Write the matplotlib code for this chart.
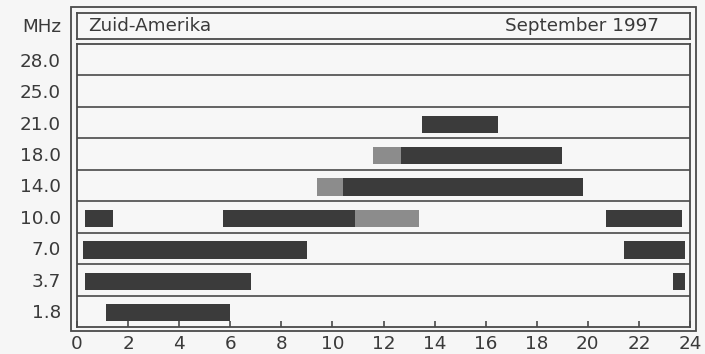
import matplotlib
matplotlib.use("Agg")
import matplotlib.pyplot as plt
from matplotlib.patches import Rectangle

plt.rcParams['font.family'] = ['DejaVu Sans']

# Data
bands = ["28.0", "25.0", "21.0", "18.0", "14.0", "10.0", "7.0", "3.7", "1.8"]
hour_ticks = [0, 2, 4, 6, 8, 10, 12, 14, 16, 18, 20, 22, 24]

# Solid (good) openings: band label, start hour, end hour
open_band = ["21.0", "18.0", "14.0", "10.0", "10.0", "10.0", "7.0", "7.0", "3.7", "3.7", "1.8"]
open_start = [13.5, 12.7, 10.4, 0.3, 5.7, 20.7, 0.25, 21.4, 0.3, 23.35, 1.15]
open_end = [16.5, 19.0, 19.8, 1.4, 10.9, 23.7, 9.0, 23.8, 6.8, 23.8, 6.0]

# Marginal openings (lighter)
marg_band = ["18.0", "14.0", "10.0"]
marg_start = [11.6, 9.4, 10.9]
marg_end = [12.7, 10.4, 13.4]

title_left = "Zuid-Amerika"
title_right = "September 1997"
unit_label = "MHz"

W, H = 705, 354
fig = plt.figure(figsize=(W / 100, H / 100), dpi=100)
fig.patch.set_facecolor('#f6f6f6')

def fx(px):
    return px / W

def fy(py):
    return 1 - py / H

line_col = '#4a4a4a'
text_col = '#3a3a3a'
bar_col = '#3b3b3b'
marg_col = '#8c8c8c'
fs = 13.2

# Main band axes
L, R, T, B = 77, 690, 44, 327
ax = fig.add_axes([fx(L), fy(B), fx(R - L), (B - T) / H])
ax.set_facecolor('#f7f7f7')
ax.set_xlim(0, 24)
n = len(bands)
ax.set_ylim(n - 0.5, -0.5)

ypos = {b: i for i, b in enumerate(bands)}
ax.barh([ypos[b] + 0.05 for b in open_band], [e - s for s, e in zip(open_start, open_end)],
        left=open_start, height=0.55, color=bar_col, edgecolor='none')
ax.barh([ypos[b] + 0.05 for b in marg_band], [e - s for s, e in zip(marg_start, marg_end)],
        left=marg_start, height=0.55, color=marg_col, edgecolor='none')

for i in range(n - 1):
    ax.axhline(i + 0.5, color=line_col, lw=1.2)

for s in ax.spines.values():
    s.set_color(line_col)
    s.set_linewidth(1.3)

ax.set_yticks(range(n))
ax.set_yticklabels(bands, fontsize=fs, color=text_col)
ax.tick_params(axis='y', length=0, pad=11.5)
ax.set_xticks(hour_ticks)
ax.set_xticklabels([str(h) for h in hour_ticks], fontsize=fs, color=text_col)
ax.tick_params(axis='x', direction='in', length=4, width=1.2, color=line_col, pad=6)

# Header box
hdr = fig.add_axes([fx(L), fy(39), fx(R - L), (39 - 13) / H])
hdr.set_facecolor('#f7f7f7')
hdr.set_xticks([])
hdr.set_yticks([])
for s in hdr.spines.values():
    s.set_color(line_col)
    s.set_linewidth(1.3)
hdr.text(0.018, 0.5, title_left, transform=hdr.transAxes, ha='left', va='center',
         fontsize=fs, color=text_col)
hdr.text(0.95, 0.5, title_right, transform=hdr.transAxes, ha='right', va='center',
         fontsize=fs, color=text_col)

fig.text(fx(61), fy(27), unit_label, ha='right', va='center', fontsize=fs, color=text_col)

# Outer frame
fig.patches.append(Rectangle((fx(71), fy(331)), fx(696 - 71), (331 - 7) / H,
                             transform=fig.transFigure, fill=False,
                             edgecolor=line_col, lw=1.3))

fig.savefig('out.png', dpi=100, facecolor=fig.get_facecolor())
